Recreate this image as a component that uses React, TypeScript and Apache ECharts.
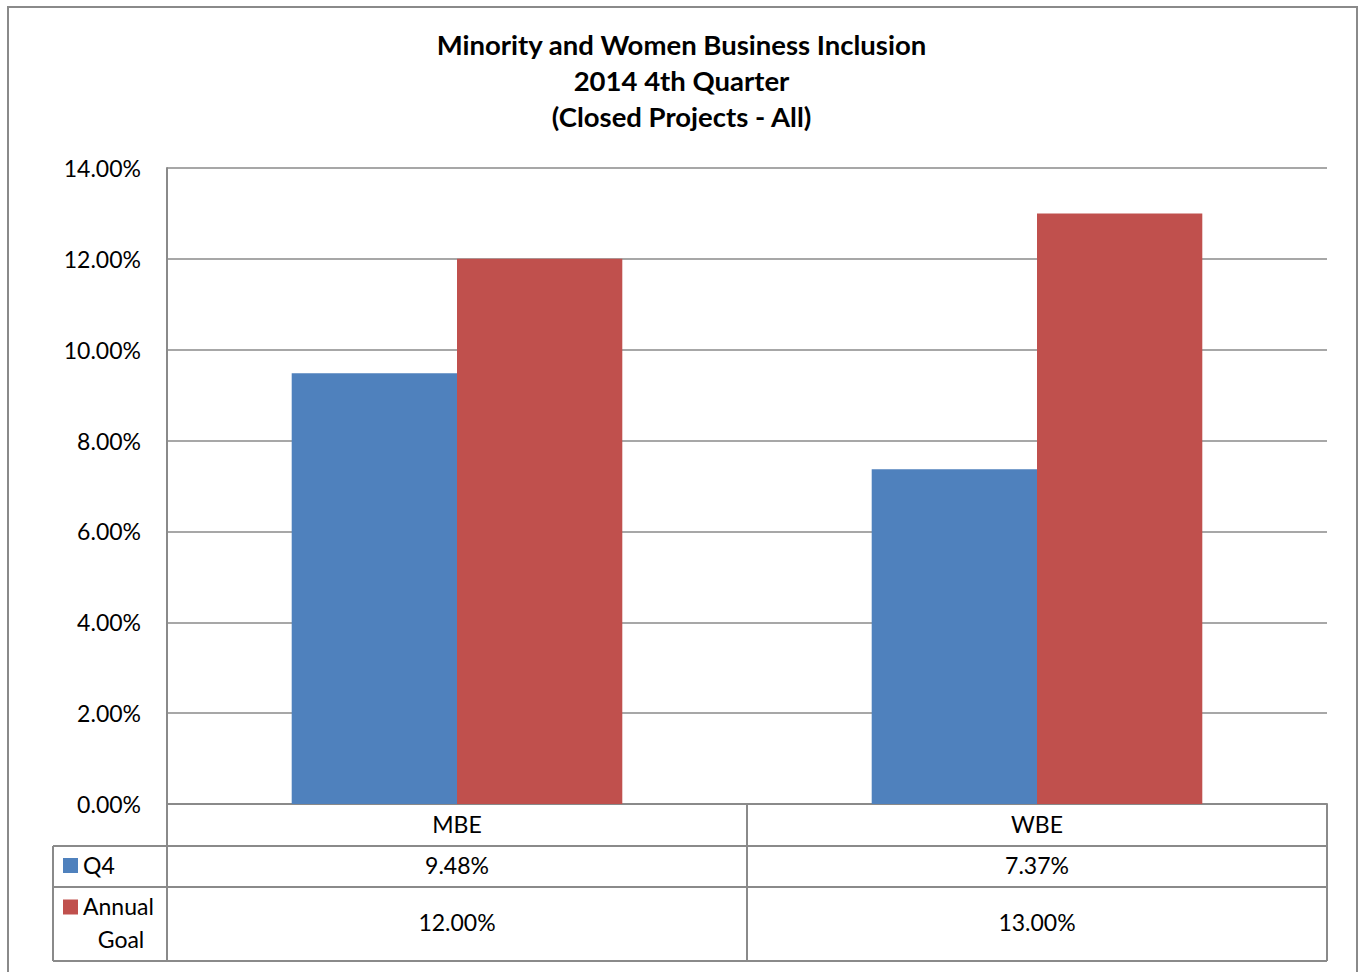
import React, { useEffect, useRef } from "react";
import * as echarts from "echarts";

// Chart data
const categories = ["MBE", "WBE"];
const seriesNames = ["Q4", "Annual Goal"];
const q4Values = [9.48, 7.37];
const goalValues = [12.0, 13.0];
const titleLines = [
  "Minority and Women Business Inclusion",
  "2014 4th Quarter",
  "(Closed Projects - All)",
];

const seriesValues = [q4Values, goalValues];
const COLORS = ["#4F81BD", "#C0504D"];
const FONT = "Lato";
const LINE = "#8a8a8a";

const fmt = (v: number) => v.toFixed(2) + "%";

function buildTable(chart: echarts.ECharts) {
  const centers = categories.map(
    (c) => chart.convertToPixel({ xAxisIndex: 0 }, c) as number
  );
  const band = centers.length > 1 ? centers[1] - centers[0] : 580;
  const left = centers[0] - band / 2;
  const right = centers[centers.length - 1] + band / 2;
  const yBase = chart.convertToPixel({ yAxisIndex: 0 }, 0) as number;
  const rows = [yBase, yBase + 42, yBase + 83, yBase + 157];
  const keyLeft = 53;

  const els: any[] = [];
  const hline = (x1: number, x2: number, y: number) =>
    els.push({
      type: "line",
      shape: { x1, y1: y, x2, y2: y },
      style: { stroke: LINE, lineWidth: 2 },
      silent: true,
    });
  const vline = (x: number, y1: number, y2: number) =>
    els.push({
      type: "line",
      shape: { x1: x, y1, x2: x, y2 },
      style: { stroke: LINE, lineWidth: 2 },
      silent: true,
    });

  // table grid
  hline(keyLeft, right, rows[1]);
  hline(keyLeft, right, rows[2]);
  hline(keyLeft, right, rows[3]);
  vline(keyLeft, rows[1], rows[3]);
  for (let j = 0; j <= categories.length; j++) {
    vline(left + band * j, rows[0], rows[3]);
  }

  const txt = (text: string, x: number, y: number, align: string) => ({
    type: "text",
    x,
    y,
    style: {
      text,
      font: `23px ${FONT}`,
      fill: "#000",
      textAlign: align,
      textVerticalAlign: "middle",
    },
  });

  // legend keys and values per series
  seriesNames.forEach((name, i) => {
    const top = rows[i + 1];
    const bottom = rows[i + 2];
    const mid = (top + bottom) / 2 - 2;
    const words = name.split(" ");
    const multi = words.length > 1;
    const firstY = multi ? mid - 16 : mid;
    els.push({
      type: "rect",
      shape: { x: 63, y: firstY - 6.5, width: 15, height: 15 },
      style: { fill: COLORS[i] },
      silent: true,
    });
    els.push(txt(words[0], 83, firstY, "left"));
    if (multi) {
      els.push(txt(words.slice(1).join(" "), 121, mid + 17, "center"));
    }
    seriesValues[i].forEach((v, j) => {
      els.push(txt(fmt(v), centers[j], mid, "center"));
    });
  });

  return els;
}

export default function App() {
  const ref = useRef<HTMLDivElement>(null);

  useEffect(() => {
    if (!ref.current) return;
    const chart = echarts.init(ref.current, undefined, { renderer: "svg" });
    const frame = {
      type: "rect",
      shape: { x: 8, y: 7, width: 1349, height: 1000 },
      style: { fill: "none", stroke: LINE, lineWidth: 2 },
      silent: true,
    };
    chart.setOption({
      animation: false,
      backgroundColor: "#fff",
      title: {
        text: titleLines.join("\n"),
        left: "center",
        top: 26,
        padding: 0,
        textStyle: {
          fontFamily: FONT,
          fontWeight: "bold",
          fontSize: 27.5,
          lineHeight: 36,
          color: "#000",
          align: "center",
        },
      },
      grid: { left: 167, right: 36, top: 168, bottom: 168, containLabel: false },
      xAxis: {
        type: "category",
        data: categories,
        axisLine: { lineStyle: { color: LINE, width: 2 } },
        axisTick: { show: false },
        axisLabel: {
          fontFamily: FONT,
          fontSize: 23,
          color: "#000",
          margin: 8,
        },
      },
      yAxis: {
        type: "value",
        min: 0,
        max: 14,
        interval: 2,
        axisLine: { show: true, lineStyle: { color: LINE, width: 2 } },
        axisTick: { show: false },
        splitLine: { lineStyle: { color: LINE, width: 1.5 } },
        axisLabel: {
          fontFamily: FONT,
          fontSize: 23,
          color: "#000",
          margin: 26,
          formatter: (v: number) => fmt(v),
        },
      },
      series: seriesNames.map((name, i) => ({
        name,
        type: "bar",
        data: seriesValues[i],
        barGap: "0%",
        barCategoryGap: "43%",
        itemStyle: { color: COLORS[i] },
      })),
      graphic: [frame],
    });
    chart.setOption({ graphic: [frame, ...buildTable(chart)] });
    return () => chart.dispose();
  }, []);

  return (
    <div
      ref={ref}
      style={{ position: "fixed", left: 0, top: 0, width: 1363, height: 972 }}
    />
  );
}
